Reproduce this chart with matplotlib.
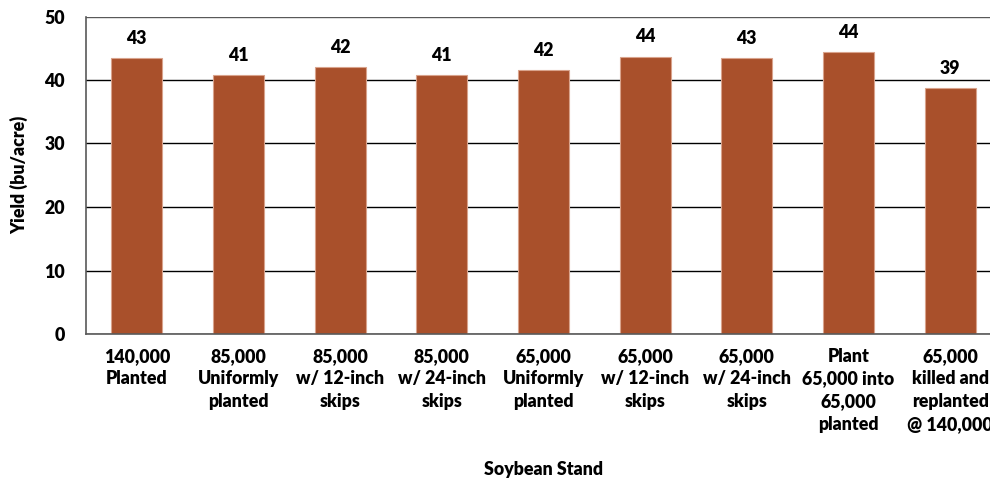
import matplotlib
matplotlib.use("Agg")
import matplotlib.pyplot as plt

categories = ["140,000\nPlanted", "85,000\nUniformly\nplanted", "85,000\nw/ 12-inch\nskips",
              "85,000\nw/ 24-inch\nskips", "65,000\nUniformly\nplanted", "65,000\nw/ 12-inch\nskips",
              "65,000\nw/ 24-inch\nskips", "Plant\n65,000 into\n65,000\nplanted",
              "65,000\nkilled and\nreplanted\n@ 140,000"]
yields = [43.4, 40.8, 42.0, 40.8, 41.6, 43.7, 43.4, 44.4, 38.7]
labels = ["43", "41", "42", "41", "42", "44", "43", "44", "39"]
yticks = [0, 10, 20, 30, 40, 50]

plt.rcParams['font.family'] = ['Lato', 'DejaVu Sans']
FW = "heavy"
FS = 12.8

fig = plt.figure(figsize=(9.9, 4.82), dpi=100)
W, H = 990, 482
ax = fig.add_axes([86 / W, 1 - 334 / H, (1001 - 86) / W, (334 - 16.5) / H])

x = list(range(len(categories)))
ax.set_axisbelow(True)
ax.yaxis.grid(True, color="black", linewidth=1.0)
bars = ax.bar(x, yields, width=0.5, color="#A9502B", edgecolor="#D9A38C", linewidth=0.8, zorder=2)
for xi, v, lab in zip(x, yields, labels):
    ax.annotate(lab, (xi, v), xytext=(0, 8), textcoords="offset points", ha="center", va="bottom",
                fontsize=FS, fontweight=FW, color="black")

ax.set_xlim(-0.5, len(categories) - 0.5)
ax.set_ylim(0, 50)
ax.set_yticks(yticks)
ax.set_yticklabels([str(t) for t in yticks], fontsize=FS, fontweight=FW)
ax.set_xticks(x)
ax.set_xticklabels(categories, fontsize=FS, fontweight=FW, linespacing=1.4)
ax.tick_params(axis="both", length=0)
ax.tick_params(axis="y", pad=15)
ax.tick_params(axis="x", pad=10)
for s in ["top", "right"]:
    ax.spines[s].set_visible(False)
ax.spines["left"].set_color("#595959")
ax.spines["bottom"].set_color("#595959")
ax.spines["left"].set_linewidth(1.2)
ax.spines["bottom"].set_linewidth(1.2)
ax.get_ygridlines()[-1].set_color("#595959")

ax.set_ylabel("Yield (bu/acre)", fontsize=FS, fontweight=FW, labelpad=12)
fig.text(543 / W, 1 - 469 / H, "Soybean Stand", ha="center", va="center", fontsize=FS, fontweight=FW)

fig.savefig("out.png", dpi=100)
